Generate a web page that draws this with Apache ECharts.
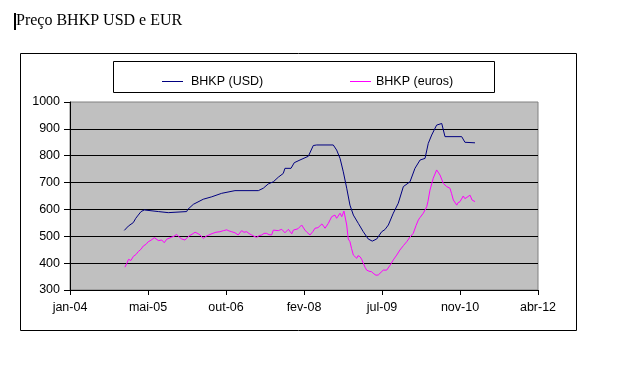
<!DOCTYPE html>
<html>
<head>
<meta charset="utf-8">
<script src="https://cdn.jsdelivr.net/npm/echarts@6/dist/echarts.min.js"></script>
<style>
html,body{margin:0;padding:0;background:#fff;}
#c{width:636px;height:371px;}
</style>
</head>
<body>
<div id="c"></div>
<script>
// ---- data ----
var titleText = 'Preço BHKP USD e EUR';
var seriesNames = ['BHKP (USD)', 'BHKP (euros)'];
var xTickLabels = ['jan-04', 'mai-05', 'out-06', 'fev-08', 'jul-09', 'nov-10', 'abr-12'];
var yTicks = [300, 400, 500, 600, 700, 800, 900, 1000];

var usdDates = [
 '2004-12-17','2005-01-12','2005-02-13','2005-03-01','2005-03-17','2005-04-04','2005-04-25',
 '2005-07-25','2005-09-27',
 '2006-01-24','2006-01-31','2006-03-08','2006-05-11','2006-07-05','2006-09-07','2006-12-02',
 '2007-05-02','2007-06-03','2007-07-05','2007-08-07','2007-09-08','2007-10-10','2007-10-21',
 '2007-11-29','2007-12-20','2008-01-26','2008-03-20','2008-04-21','2008-05-13',
 '2008-08-28','2008-09-19','2008-10-11','2008-11-01','2008-11-23','2008-12-14',
 '2009-01-05','2009-02-06','2009-03-10','2009-04-11','2009-05-07','2009-06-05',
 '2009-07-07','2009-07-28','2009-08-19','2009-09-20','2009-10-22','2009-11-24',
 '2010-01-06','2010-02-07','2010-03-12','2010-04-13','2010-05-04','2010-05-26',
 '2010-06-27','2010-07-30','2010-08-20','2010-12-06','2010-12-27','2011-03-02'
];
var usdValues = [
 522,538,551,567,579,592,598,
 592,588,
 592,600,619,638,647,660,670,
 670,679,695,703,720,734,753,
 753,774,784,798,838,840,
 840,821,790,740,679,616,
 579,548,517,490,482,490,
 517,525,542,586,623,685,
 703,753,784,790,846,877,
 914,920,871,871,850,848
];

var eurDates = [
 '2004-12-21','2005-01-03','2005-01-13','2005-01-29','2005-02-13','2005-03-02','2005-03-17','2005-04-04','2005-04-19','2005-05-06',
 '2005-05-21','2005-06-07','2005-06-29','2005-07-10','2005-07-25','2005-08-05','2005-08-16','2005-09-01','2005-09-17','2005-09-27',
 '2005-10-19','2005-11-03','2005-11-20','2005-12-05','2005-12-23','2006-01-13','2006-02-01','2006-02-14','2006-03-06','2006-03-19',
 '2006-04-07','2006-04-20','2006-05-11','2006-05-29','2006-06-13','2006-07-07','2006-08-01','2006-08-27','2006-09-18','2006-10-10',
 '2006-10-24','2006-11-11','2006-12-02','2006-12-23','2007-01-14','2007-01-29','2007-02-16','2007-03-03','2007-03-20','2007-04-04',
 '2007-04-21','2007-05-06','2007-05-24','2007-06-08','2007-06-25','2007-07-10','2007-07-27','2007-08-07','2007-08-18','2007-09-08',
 '2007-09-30','2007-10-21','2007-11-12','2007-12-04','2007-12-14','2007-12-25','2008-01-13','2008-02-06','2008-02-27','2008-03-11',
 '2008-03-31','2008-04-19','2008-05-02','2008-05-21','2008-06-03','2008-06-16','2008-07-06','2008-07-27','2008-08-07','2008-08-18',
 '2008-09-08','2008-09-19','2008-09-28','2008-10-11','2008-10-22','2008-11-05','2008-11-23','2008-12-03','2008-12-14','2008-12-24',
 '2009-01-05','2009-01-16','2009-01-27','2009-02-04','2009-02-17','2009-02-27','2009-03-10','2009-03-21','2009-04-01','2009-04-16',
 '2009-05-03','2009-05-18','2009-05-31','2009-06-15','2009-06-26','2009-07-17','2009-08-08','2009-08-30','2009-09-20','2009-10-12',
 '2009-11-02','2009-11-24','2009-12-16','2010-01-06','2010-01-27','2010-02-14','2010-03-01','2010-03-12','2010-04-02','2010-04-24',
 '2010-05-02','2010-05-15','2010-06-05','2010-06-27','2010-07-06','2010-07-19','2010-08-09','2010-08-20','2010-08-31','2010-09-08',
 '2010-09-21','2010-10-01','2010-10-13','2010-11-04','2010-11-12','2010-11-25','2010-12-16','2010-12-27','2011-01-07','2011-01-16',
 '2011-01-29','2011-02-11','2011-03-02'
];
var eurValues = [
 385,400,414,410,425,432,443,452,464,470,
 480,485,495,490,484,490,486,476,489,486,
 497,500,507,498,490,486,498,503,510,515,
 510,505,492,500,504,510,515,517,521,524,
 520,517,513,505,521,515,517,510,505,500,
 496,502,505,511,511,506,505,523,526,521,
 526,513,526,509,523,530,528,542,523,515,
 505,518,530,532,539,546,530,548,545,573,
 579,567,575,586,573,594,542,490,480,455,
 430,425,418,428,424,415,400,385,374,370,
 368,360,355,356,362,374,374,392,412,430,
 449,465,480,497,511,540,561,570,586,610,
 630,672,716,747,740,728,697,700,685,690,
 679,660,635,616,625,629,650,640,641,648,
 653,635,629
];

// ---- helpers ----
var BASE = Date.UTC(2004, 0, 1);
var DAY = 86400000;
var STEP_DAYS = 504; // Excel major unit between tick labels
function toDay(s) {
  var p = s.split('-');
  return (Date.UTC(+p[0], +p[1] - 1, +p[2]) - BASE) / DAY;
}
function pairs(dates, vals) {
  var out = [];
  for (var i = 0; i < dates.length; i++) out.push([toDay(dates[i]), vals[i]]);
  return out;
}

var FONT = '"Liberation Sans", Arial, sans-serif';
var chart = echarts.init(document.getElementById('c'), null, {renderer: 'canvas'});
chart.setOption({
  animation: false,
  backgroundColor: '#ffffff',
  graphic: [
    {type: 'rect', silent: true, z: 0, shape: {x: 20.5, y: 53.5, width: 556, height: 277},
     style: {fill: 'none', stroke: '#000', lineWidth: 1}},
    {type: 'rect', silent: true, z: 0, shape: {x: 113.5, y: 61.5, width: 381, height: 31},
     style: {fill: 'none', stroke: '#000', lineWidth: 1}},
    {type: 'rect', silent: true, shape: {x: 14, y: 13, width: 2, height: 17},
     style: {fill: '#000'}},
    {type: 'text', silent: true, left: 16, top: 13,
     style: {text: titleText, font: '16px "Liberation Serif", "Times New Roman", serif', fill: '#000'}}
  ],
  legend: [
    {data: [seriesNames[0]], left: 157, top: 70, icon: 'rect', itemWidth: 21, itemHeight: 1,
     textStyle: {fontFamily: FONT, fontSize: 12.5, color: '#000', padding: [0, 0, 0, 3]}},
    {data: [seriesNames[1]], left: 345, top: 70, icon: 'rect', itemWidth: 21, itemHeight: 1,
     textStyle: {fontFamily: FONT, fontSize: 12.5, color: '#000', padding: [0, 0, 0, 0]}}
  ],
  grid: {left: 70, top: 102, width: 468, height: 188, show: true,
         backgroundColor: '#C0C0C0', borderColor: '#808080', borderWidth: 1},
  xAxis: {
    type: 'value', min: 0, max: STEP_DAYS * (xTickLabels.length - 1), interval: STEP_DAYS,
    axisLine: {lineStyle: {color: '#000', width: 1}},
    axisTick: {show: true, inside: false, length: 5, lineStyle: {color: '#000'}},
    splitLine: {show: false},
    axisLabel: {margin: 11, color: '#000', fontFamily: FONT, fontSize: 12.5,
      formatter: function (v) { return xTickLabels[Math.round(v / STEP_DAYS)] || ''; }}
  },
  yAxis: {
    type: 'value', min: yTicks[0], max: yTicks[yTicks.length - 1], interval: 100,
    axisLine: {show: true, lineStyle: {color: '#000', width: 1}},
    axisTick: {show: true, inside: false, length: 6, lineStyle: {color: '#000'}},
    splitLine: {show: true, showMinLine: false, showMaxLine: false, lineStyle: {color: '#000', width: 1}},
    axisLabel: {margin: 10, color: '#000', fontFamily: FONT, fontSize: 12.5,
      formatter: function (v) { return String(v); }}
  },
  series: [
    {name: seriesNames[0], type: 'line', data: pairs(usdDates, usdValues),
     symbol: 'none', showSymbol: false, color: '#000080',
     lineStyle: {color: '#000080', width: 1}},
    {name: seriesNames[1], type: 'line', data: pairs(eurDates, eurValues),
     symbol: 'none', showSymbol: false, color: '#FF00FF',
     lineStyle: {color: '#FF00FF', width: 1}}
  ]
});
</script>
</body>
</html>
